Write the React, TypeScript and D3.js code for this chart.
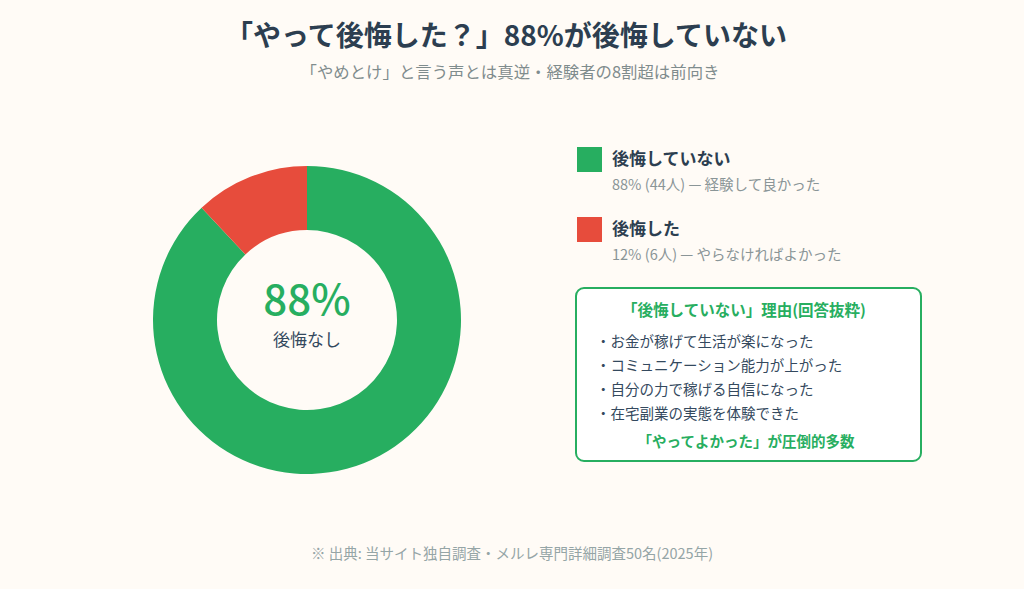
import React from "react";
import * as d3 from "d3";

const categories = ["後悔していない", "後悔した"];
const values = [88, 12];
const counts = [44, 6];
const comments = ["経験して良かった", "やらなければよかった"];
const colors = ["#27ae60", "#e74c3c"];
const reasons = [
  "・お金が稼げて生活が楽になった",
  "・コミュニケーション能力が上がった",
  "・自分の力で稼げる自信になった",
  "・在宅副業の実態を体験できた",
];

const FONT = "'Noto Sans CJK JP', 'Noto Sans', sans-serif";

export default function App() {
  const W = 1024;
  const H = 589;
  const cx = 307;
  const cy = 320;
  const pie = d3.pie<number>().sort(null).value((d) => d);
  const arcs = pie(values);
  const arc = d3.arc<d3.PieArcDatum<number>>().innerRadius(90).outerRadius(154);

  return (
    <div style={{ position: "absolute", left: 0, top: 0, width: W, height: H, background: "#fffbf6" }}>
      <svg width={W} height={H} style={{ display: "block", fontFamily: FONT }}>
        <rect width={W} height={H} fill="#fffbf6" />
        <text x={506} y={46} textAnchor="middle" fontSize={28} fontWeight={700} fill="#2c3e50">
          「やって後悔した？」88%が後悔していない
        </text>
        <text x={510} y={78} textAnchor="middle" fontSize={16.4} fill="#7f8c8d">
          「やめとけ」と言う声とは真逆・経験者の8割超は前向き
        </text>

        <g transform={`translate(${cx},${cy})`}>
          {arcs.map((a, i) => (
            <path key={i} d={arc(a) || ""} fill={colors[i]} />
          ))}
          <text x={0} y={-5} textAnchor="middle" fontSize={42} fontWeight={500} fill="#27ae60">
            {values[0]}%
          </text>
          <text x={0} y={26} textAnchor="middle" fontSize={17} fill="#34495e">
            後悔なし
          </text>
        </g>

        {categories.map((c, i) => {
          const y0 = 147 + i * 70;
          return (
            <g key={c}>
              <rect x={577} y={y0} width={25} height={25} fill={colors[i]} />
              <text x={612} y={y0 + 18} fontSize={17} fontWeight={700} fill="#2c3e50">
                {c}
              </text>
              <text x={612} y={y0 + 43} fontSize={14.5} fill="#8a9597">
                {values[i]}% ({counts[i]}人) — {comments[i]}
              </text>
            </g>
          );
        })}

        <rect x={576} y={288} width={345} height={173} rx={8} ry={8} fill="#ffffff" stroke="#27ae60" strokeWidth={2} />
        <text x={744} y={316} textAnchor="middle" fontSize={15.5} fontWeight={700} fill="#27ae60">
          「後悔していない」理由(回答抜粋)
        </text>
        {reasons.map((r, i) => (
          <text key={r} x={596} y={347 + i * 24} fontSize={14.5} fill="#34495e">
            {r}
          </text>
        ))}
        <text x={746} y={447} textAnchor="middle" fontSize={14.5} fontWeight={700} fill="#27ae60">
          「やってよかった」が圧倒的多数
        </text>

        <text x={512} y={559} textAnchor="middle" fontSize={14.5} fill="#95a5a6">
          ※ 出典: 当サイト独自調査・メルレ専門詳細調査50名(2025年)
        </text>
      </svg>
    </div>
  );
}
